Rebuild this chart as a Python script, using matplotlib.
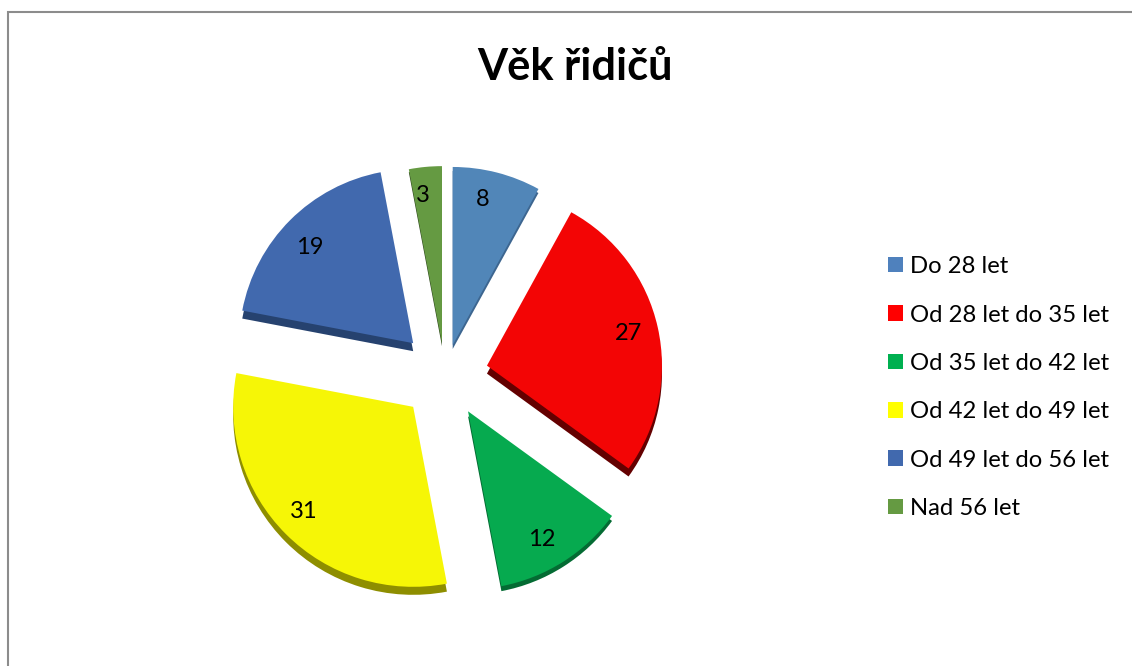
import matplotlib
matplotlib.use('Agg')
import matplotlib.pyplot as plt
from matplotlib.patches import Patch

plt.rcParams['font.family'] = ['Lato', 'DejaVu Sans']

W, H = 1132, 666

# data
categories = ['Do 28 let', 'Od 28 let do 35 let', 'Od 35 let do 42 let',
              'Od 42 let do 49 let', 'Od 49 let do 56 let', 'Nad 56 let']
values = [8, 27, 12, 31, 19, 3]
explode = [31, 43, 43, 45, 45, 32]  # pie takes these in data units, here pixels
slice_radius = [178, 175, 178, 180, 174, 177]
rim_depth = [4, 8, 5, 8, 8, 3]
top_colors = ['#5186B8', '#F30505', '#06AA4F', '#F6F606', '#4169AE', '#659A42']
rim_colors = ['#3D6690', '#640000', '#046B33', '#8E8E00', '#26426F', '#30491F']
legend_colors = ['#4F81BD', '#FF0000', '#00B050', '#FFFF00', '#4169AE', '#659A42']
label_px = [(483, 200), (628, 334), (542, 539), (304, 512), (310, 248), (423, 195)]

fig = plt.figure(figsize=(W / 100, H / 100), dpi=100)
ax = fig.add_axes([0, 0, 1, 1])

cx, cy = 445, H - 375
radius = 178

# darker copy first, shifted down: gives the 3d rim
rim, _ = ax.pie(values, explode=explode, colors=rim_colors, startangle=90, counterclock=False,
                center=(cx, cy), radius=radius, wedgeprops=dict(linewidth=0))
top, _ = ax.pie(values, explode=explode, colors=top_colors, startangle=90, counterclock=False,
                center=(cx, cy), radius=radius, wedgeprops=dict(linewidth=0))

# the slices in the reference are not quite the same size, rim also varies
for w_rim, w_top, r, d in zip(rim, top, slice_radius, rim_depth):
    w_top.set_radius(r)
    w_rim.set_radius(r)
    x, y = w_rim.center
    w_rim.set_center((x, y - d))

ax.set_xlim(0, W)
ax.set_ylim(0, H)
ax.set_aspect('equal')
ax.axis('off')

for v, (x, y) in zip(values, label_px):
    ax.text(x, H - y, str(v), ha='center', va='center', fontsize=17, color='black')

ax.text(575, H - 67, 'Věk řidičů', ha='center', va='center', fontsize=31.2,
        fontweight='bold', color='black')

# frame, only top and left are inside the crop
ax.plot([8, 8, W], [0, H - 12, H - 12], color='#8C8C8C', linewidth=1.5, solid_joinstyle='miter')

handles = [Patch(facecolor=c, edgecolor='none') for c in legend_colors]
ax.legend(handles, categories, loc='upper left', bbox_to_anchor=(881, H - 249),
          bbox_transform=ax.transData, frameon=False, fontsize=17.2,
          handlelength=0.62, handleheight=0.62, handletextpad=0.3,
          labelspacing=1.145, borderpad=0.3, borderaxespad=0)

fig.savefig('out.png', dpi=100)
